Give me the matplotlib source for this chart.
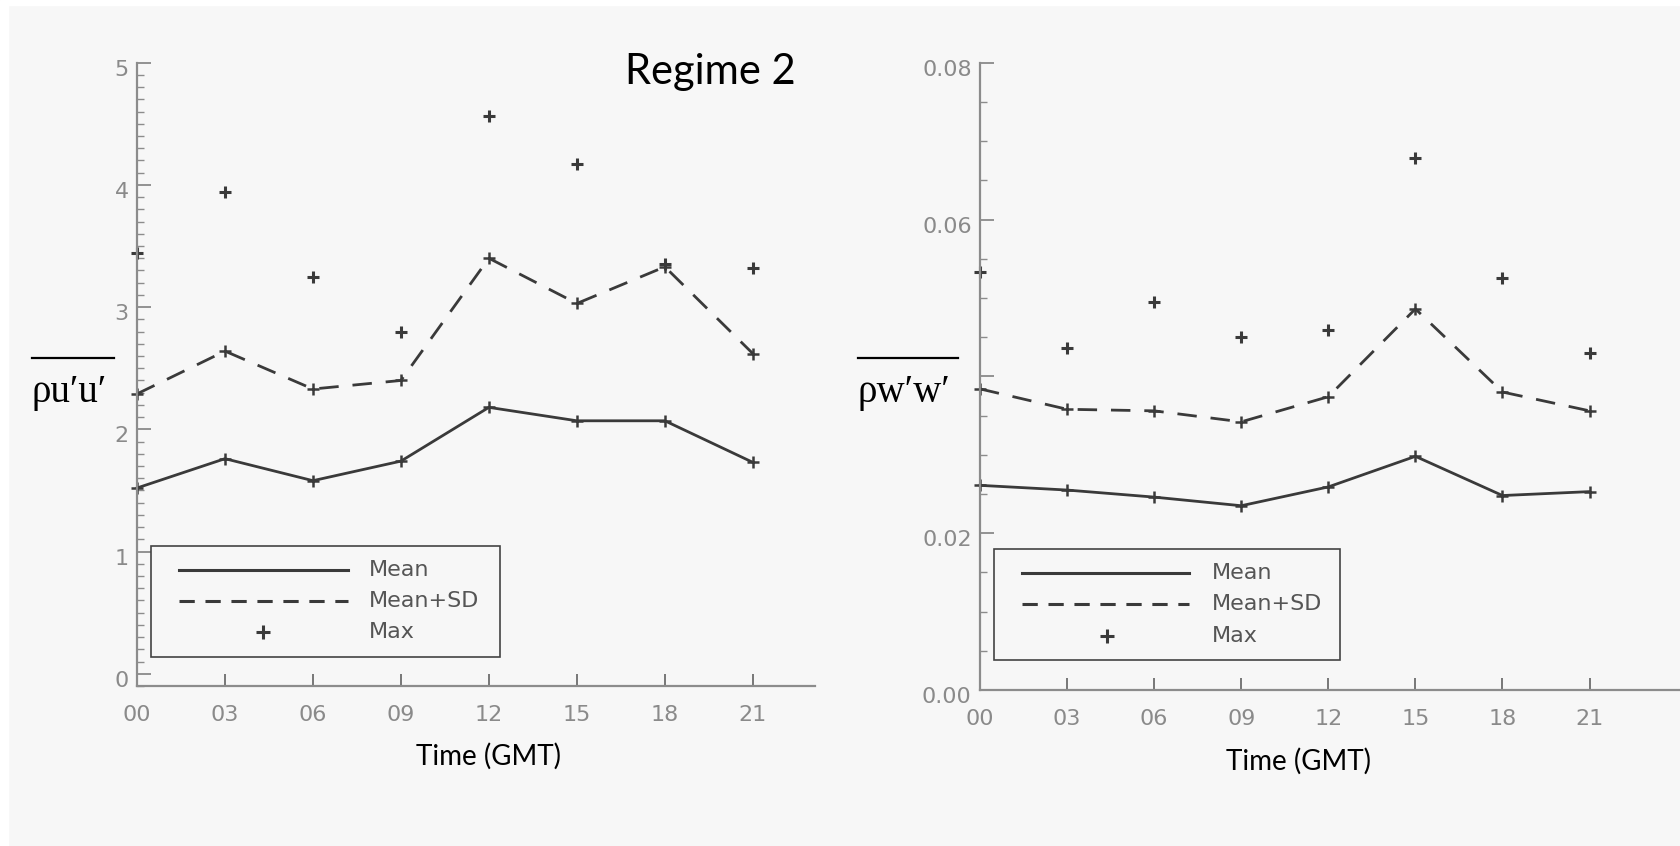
import matplotlib
matplotlib.use('Agg')
import matplotlib.pyplot as plt
from matplotlib.lines import Line2D
from matplotlib.patches import Rectangle
from matplotlib.transforms import ScaledTranslation
from matplotlib.ticker import MultipleLocator

# data
hours = [0, 3, 6, 9, 12, 15, 18, 21]
hour_labels = ['00', '03', '06', '09', '12', '15', '18', '21']

uu_mean = [1.52, 1.76, 1.58, 1.74, 2.18, 2.07, 2.07, 1.73]
uu_mean_sd = [2.29, 2.64, 2.33, 2.40, 3.40, 3.03, 3.33, 2.62]
uu_max = [3.44, 3.94, 3.25, 2.80, 4.56, 4.17, 3.35, 3.32]

ww_mean = [0.0261, 0.0255, 0.0246, 0.0235, 0.0259, 0.0298, 0.0248, 0.0253]
ww_mean_sd = [0.0384, 0.0358, 0.0356, 0.0342, 0.0374, 0.0486, 0.0380, 0.0356]
ww_max = [0.0533, 0.0436, 0.0495, 0.0450, 0.0459, 0.0678, 0.0525, 0.0430]

legend_labels = ['Mean', 'Mean+SD', 'Max']

W, H = 1681, 846
BG = '#f7f7f7'
INK = '#3a3a3a'
TICK_TXT = '#8a8a8a'
LEG_TXT = '#555555'
DASH = (0, (7, 5))


def fx(px):
    return px / W


def fy(py):
    return 1 - py / H


fig = plt.figure(figsize=(W / 100, H / 100), dpi=100, facecolor=BG)
# white strips at the edges of the pasted picture
fig.patches.append(Rectangle((0, 0), fx(8), 1, transform=fig.transFigure, color='white', zorder=0))
fig.patches.append(Rectangle((0, fy(5)), 1, 5 / H, transform=fig.transFigure, color='white', zorder=0))


def style_axis(ax, ylim, xmax, major, minor, fmt):
    ax.set_facecolor(BG)
    ax.set_xlim(0, xmax)
    ax.set_ylim(*ylim)
    for s in ['top', 'right']:
        ax.spines[s].set_visible(False)
    for s in ['left', 'bottom']:
        ax.spines[s].set_color('#8c8c8c')
        ax.spines[s].set_linewidth(1.6)
    ax.set_xticks(hours)
    ax.set_xticklabels(hour_labels)
    ax.yaxis.set_major_locator(MultipleLocator(major))
    ax.yaxis.set_minor_locator(MultipleLocator(minor))
    ax.yaxis.set_major_formatter(fmt)
    ax.tick_params(axis='x', direction='in', length=8.5, width=1.1, color='#555555',
                   labelsize=16, labelcolor=TICK_TXT, pad=14)
    ax.tick_params(axis='y', which='major', direction='in', length=10, width=1.1,
                   color='#777777', labelsize=16, labelcolor=TICK_TXT, pad=6)
    ax.tick_params(axis='y', which='minor', direction='in', length=5, width=1.0,
                   color='#8c8c8c')
    off = ScaledTranslation(0, -0.05, fig.dpi_scale_trans)
    for lab in ax.get_yticklabels():
        lab.set_transform(lab.get_transform() + off)


def draw_series(ax, mean, mean_sd, mx):
    ax.plot(hours, mean, color=INK, lw=2.0, marker='+', ms=9, mew=1.8, clip_on=False)
    ax.plot(hours, mean_sd, color=INK, lw=2.0, ls=DASH, marker='+', ms=9, mew=1.8, clip_on=False)
    ax.plot(hours, mx, ls='none', color=INK, marker='+', ms=9, mew=2.2, clip_on=False)


def draw_legend(x0, y0, x1, y1, line_x0, line_x1, text_x, rows, plus_x):
    fig.patches.append(Rectangle((fx(x0), fy(y1)), fx(x1) - fx(x0), fy(y0) - fy(y1),
                                 transform=fig.transFigure, fill=False,
                                 edgecolor='#444444', lw=1.2))
    fig.add_artist(Line2D([fx(line_x0), fx(line_x1)], [fy(rows[0])] * 2, color=INK, lw=2.2))
    fig.add_artist(Line2D([fx(line_x0), fx(line_x1)], [fy(rows[1])] * 2, color=INK, lw=2.2, ls=(0, (5, 3.5))))
    fig.add_artist(Line2D([fx(plus_x)], [fy(rows[2])], color=INK, marker='+', ms=10, mew=2.2, ls='none'))
    for lab, r in zip(legend_labels, rows):
        fig.text(fx(text_x), fy(r), lab, fontsize=16, color=LEG_TXT, va='center', ha='left')


# left panel: rho u'u'
ax1 = fig.add_axes([fx(137), fy(686), fx(815) - fx(137), fy(62.7) - fy(686)])
style_axis(ax1, (-0.1, 5), 23.12, 1, 0.1, '{x:.0f}')
draw_series(ax1, uu_mean, uu_mean_sd, uu_max)
draw_legend(151, 546, 500, 657, 179, 348, 369, [570, 601, 632], 263)

# right panel: rho w'w'
ax2 = fig.add_axes([fx(980), fy(690), 1 - fx(980), fy(62.7) - fy(690)])
style_axis(ax2, (0, 0.08), 24.15, 0.02, 0.005, '{x:.2f}')
draw_series(ax2, ww_mean, ww_mean_sd, ww_max)
draw_legend(994, 549, 1340, 660, 1022, 1189, 1212, [573, 604, 636], 1107)
# the 0.04 label is covered by the axis title in the reference
for lab in ax2.get_yticklabels():
    if lab.get_text() == '0.04':
        lab.set_visible(False)

# axis titles
serif = ['Liberation Serif', 'DejaVu Serif']
fig.text(fx(32), fy(402), 'ρu′u′', family=serif, fontsize=28, va='baseline', ha='left')
fig.add_artist(Line2D([fx(32), fx(114)], [fy(358)] * 2, color='black', lw=1.6))
fig.text(fx(858), fy(402), 'ρw′w′', family=serif, fontsize=28, va='baseline', ha='left')
fig.add_artist(Line2D([fx(858), fx(958)], [fy(358)] * 2, color='black', lw=1.6))

fig.text(fx(489), fy(765), 'Time (GMT)', family='Lato', fontsize=20, ha='center', va='baseline')
fig.text(fx(1299), fy(770), 'Time (GMT)', family='Lato', fontsize=20, ha='center', va='baseline')
fig.text(fx(710), fy(84), 'Regime 2', family='Lato', fontsize=30, ha='center', va='baseline')

fig.savefig('out.png', dpi=100, facecolor=fig.get_facecolor())
